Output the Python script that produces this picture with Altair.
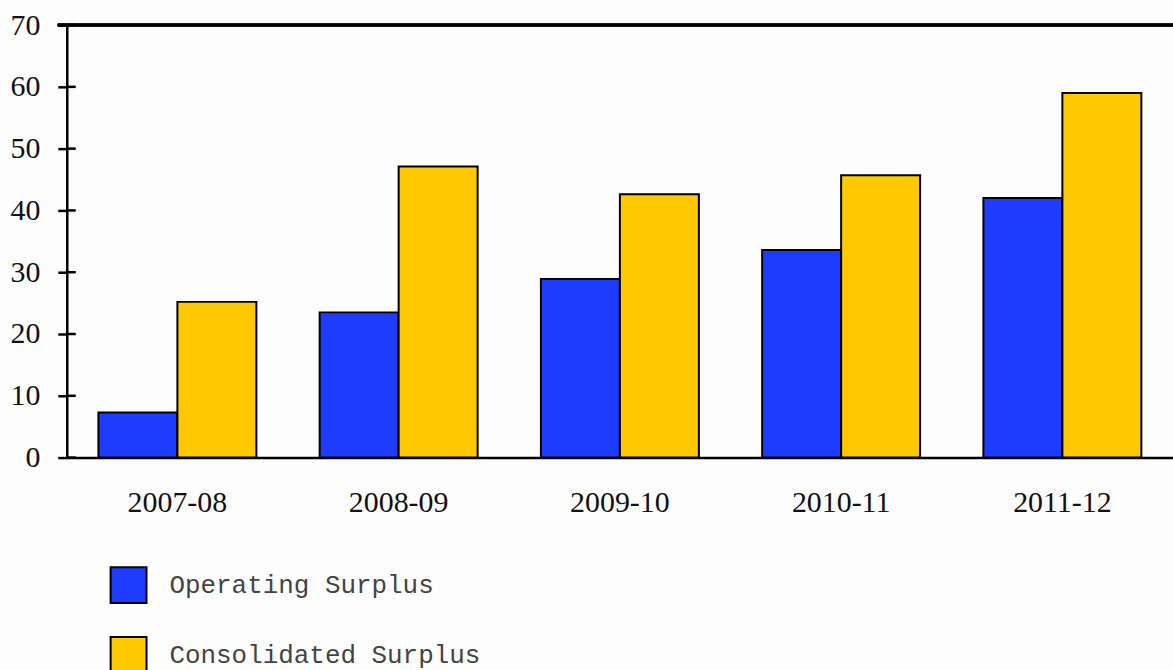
import altair as alt
import pandas as pd

years = ["2007-08", "2008-09", "2009-10", "2010-11", "2011-12"]
operating = [7.3, 23.5, 28.9, 33.6, 42.0]
consolidated = [25.2, 47.1, 42.6, 45.7, 59.0]
series_names = ["Operating Surplus", "Consolidated Surplus"]
series_colors = ["#1e3cff", "#ffc800"]
y_ticks = [0, 10, 20, 30, 40, 50, 60, 70]

rows = []
for i, y in enumerate(years):
    rows.append({"year": y, "series": series_names[0], "value": operating[i]})
    rows.append({"year": y, "series": series_names[1], "value": consolidated[i]})
df = pd.DataFrame(rows)
ticks_df = pd.DataFrame({"v": y_ticks})

W, H = 1110, 434

bars = alt.Chart(df).mark_bar(stroke="black", strokeWidth=2).encode(
    x=alt.X("year:N", sort=years, title=None,
            scale=alt.Scale(paddingInner=0.286, paddingOuter=0.143),
            axis=alt.Axis(labelAngle=0, ticks=False, domain=True, domainColor="black",
                          domainWidth=2.5, labelFont="Liberation Serif", labelFontSize=30,
                          labelColor="#111", labelPadding=30, grid=False)),
    xOffset=alt.XOffset("series:N", sort=series_names, scale=alt.Scale(paddingInner=0, paddingOuter=0)),
    y=alt.Y("value:Q", title=None,
            scale=alt.Scale(domain=[0, 70], nice=False, zero=True),
            axis=alt.Axis(values=y_ticks, grid=False, domainColor="black", domainWidth=2.5,
                          tickColor="black", tickWidth=2.5, tickSize=9, labelPadding=18,
                          labelFont="Liberation Serif", labelFontSize=30, labelColor="#111")),
    color=alt.Color("series:N", sort=series_names,
                    scale=alt.Scale(domain=series_names, range=series_colors),
                    legend=alt.Legend(title=None, orient="none", legendX=43, legendY=543,
                                      symbolType="square", symbolSize=1296,
                                      symbolStrokeColor="black", symbolStrokeWidth=2,
                                      symbolOpacity=1, labelLimit=800,
                                      labelFont="Liberation Mono", labelFontSize=26,
                                      labelColor="#444", labelOffset=22, rowPadding=26)),
)

inner_ticks = alt.Chart(ticks_df).mark_rule(color="black", strokeWidth=2.5).encode(
    y=alt.Y("v:Q"),
    x=alt.value(0),
    x2=alt.value(9),
)

top_line = alt.Chart(ticks_df).mark_rule(color="black", strokeWidth=2.5).encode(
    y=alt.value(0),
    x=alt.value(-9),
    x2=alt.value(W + 20),
)

chart = alt.layer(bars, inner_ticks, top_line).properties(
    width=W, height=H,
    autosize=alt.AutoSizeParams(type="none"),
    padding={"left": 67, "top": 24, "right": 0, "bottom": 212},
    background="#fdfdfd",
).configure_view(stroke=None)

chart.save("out.html", embed_options={"renderer": "svg", "actions": False})
